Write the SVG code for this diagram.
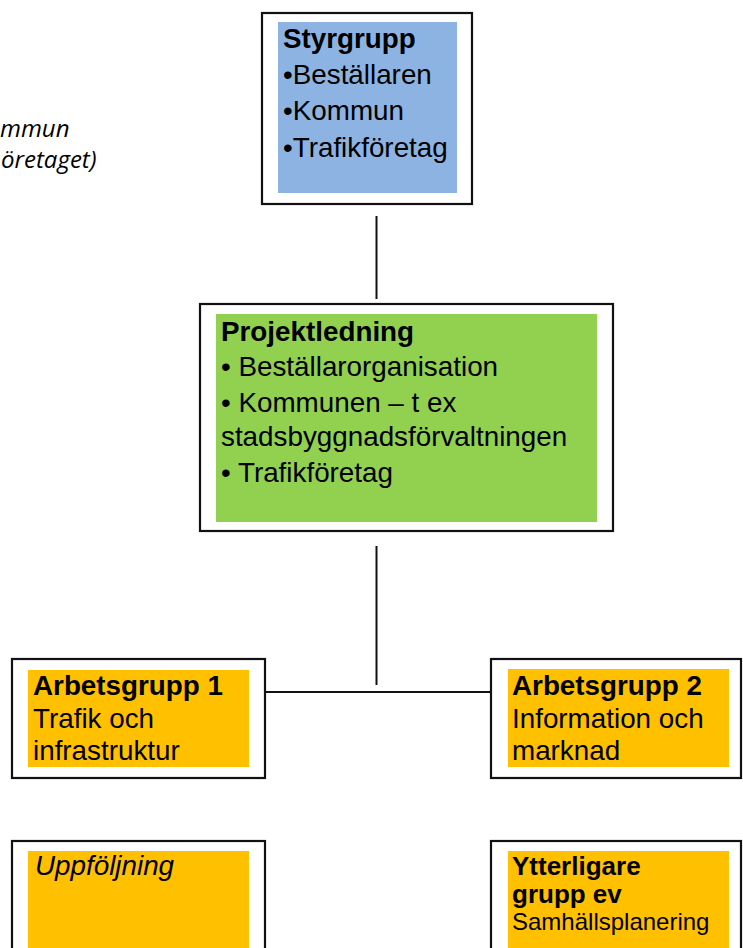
<svg xmlns="http://www.w3.org/2000/svg" width="743" height="948" viewBox="0 0 743 948">
<style>
.box{fill:#fff;stroke:#111;stroke-width:2.2}
.t{font-family:"Liberation Sans",Arial,sans-serif;font-size:27.8px;fill:#000}
.b{font-weight:bold}
.i{font-style:italic}
.note{font-family:"Open Sans","Liberation Sans",sans-serif;font-style:italic;font-size:24px;fill:#000}
.conn{stroke:#111;stroke-width:2;fill:none}
</style>
<rect width="743" height="948" fill="#fff"/>
<g id="note">
<text class="note" x="0" y="137">mmun</text>
<text class="note" x="1" y="168">öretaget)</text>
</g>
<g id="connectors">
<line class="conn" x1="376.5" y1="216" x2="376.5" y2="299"/>
<line class="conn" x1="376.5" y1="546" x2="376.5" y2="685"/>
<line class="conn" x1="262" y1="692" x2="491" y2="692"/>
</g>
<g id="styrgrupp">
<rect class="box" x="262" y="13" width="210" height="191"/>
<rect x="278" y="22" width="179" height="171" fill="#8DB3E2"/>
<text class="t b" x="283" y="48">Styrgrupp</text>
<text class="t" x="283" y="84">•Beställaren</text>
<text class="t" x="283" y="120">•Kommun</text>
<text class="t" x="283" y="157">•Trafikföretag</text>
</g>
<g id="projektledning">
<rect class="box" x="200" y="304" width="413" height="227"/>
<rect x="216" y="314" width="381" height="208" fill="#92D050"/>
<text class="t b" x="221" y="341">Projektledning</text>
<text class="t" x="221" y="376">• Beställarorganisation</text>
<text class="t" x="221" y="412">• Kommunen – t ex</text>
<text class="t" x="221" y="446">stadsbyggnadsförvaltningen</text>
<text class="t" x="221" y="482">• Trafikföretag</text>
</g>
<g id="arbetsgrupp1">
<rect class="box" x="12" y="659" width="253" height="119"/>
<rect x="28" y="670" width="221" height="97" fill="#FFC000"/>
<text class="t b" x="33" y="695">Arbetsgrupp 1</text>
<text class="t" x="33" y="728">Trafik och</text>
<text class="t" x="33" y="760">infrastruktur</text>
</g>
<g id="arbetsgrupp2">
<rect class="box" x="491" y="659" width="250" height="119"/>
<rect x="508" y="669" width="221" height="98" fill="#FFC000"/>
<text class="t b" x="512" y="695">Arbetsgrupp 2</text>
<text class="t" x="512" y="728">Information och</text>
<text class="t" x="512" y="760">marknad</text>
</g>
<g id="uppfoljning">
<rect class="box" x="12" y="841" width="253" height="120"/>
<rect x="28" y="851" width="221" height="97" fill="#FFC000"/>
<text class="t i" x="35" y="875">Uppföljning</text>
</g>
<g id="ytterligare">
<rect class="box" x="491" y="841" width="250" height="120"/>
<rect x="508" y="851" width="221" height="97" fill="#FFC000"/>
<text class="t b" x="512" y="875" style="font-size:26px">Ytterligare</text>
<text class="t b" x="512" y="903" style="font-size:26px">grupp ev</text>
<text class="t" x="512" y="930" style="font-size:24px">Samhällsplanering</text>
</g>
</svg>
